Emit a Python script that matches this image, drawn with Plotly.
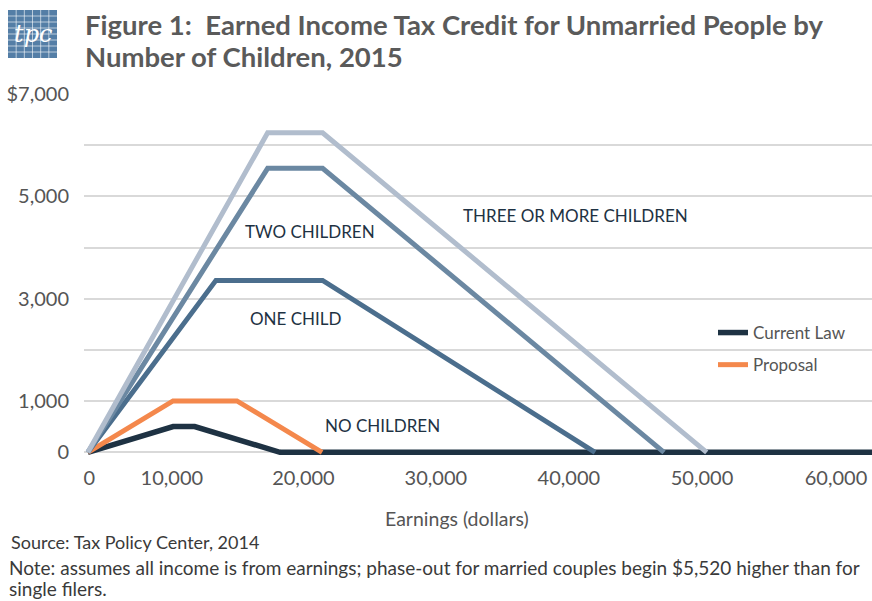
import plotly.graph_objects as go

# ---- data (2015 EITC schedules, unmarried filers) ----
three_x = [0, 13870, 18110, 47747]
three_y = [0, 6242, 6242, 0]
two_x = [0, 13870, 18110, 44454]
two_y = [0, 5548, 5548, 0]
one_x = [0, 9880, 18110, 39131]
one_y = [0, 3359, 3359, 0]
current_x = [0, 6580, 8240, 14820, 62000]
current_y = [0, 503, 503, 0, 0]
proposal_x = [0, 6570, 11500, 18070]
proposal_y = [0, 1005, 1005, 0]

y_tick_vals = [0, 1000, 2000, 3000, 4000, 5000, 6000, 7000]
y_tick_text = ["0", "1,000", "", "3,000", "", "5,000", "", "$7,000"]
x_tick_vals = [115, 6480, 16630, 26850, 37110, 47380, 57720]
x_tick_text = ["0", "10,000", "20,000", "30,000", "40,000", "50,000", "60,000"]

C_THREE = "#b1bdcd"
C_TWO = "#6b88a2"
C_ONE = "#4b6e8d"
C_CUR = "#1e3243"
C_PROP = "#f4884c"
TXT = "#555555"
FONT = "Lato"

W, H = 872, 601
M_L, M_R, M_T, M_B = 84, 0, 94, 141
PLOT_LEFT = M_L
PLOT_W = W - M_L - M_R
PLOT_BOTTOM = H - M_B
PLOT_H = H - M_T - M_B


def px(x):
    return (x - PLOT_LEFT) / PLOT_W


def py(y):
    return (PLOT_BOTTOM - y) / PLOT_H


fig = go.Figure()
fig.add_trace(go.Scatter(x=current_x, y=current_y, mode="lines", name="Current Law",
                         line=dict(color=C_CUR, width=5.5), legendgroup="a"))
fig.add_trace(go.Scatter(x=proposal_x, y=proposal_y, mode="lines", name="Proposal",
                         line=dict(color=C_PROP, width=5), legendgroup="b"))
fig.add_trace(go.Scatter(x=one_x, y=one_y, mode="lines", showlegend=False,
                         line=dict(color=C_ONE, width=5)))
fig.add_trace(go.Scatter(x=two_x, y=two_y, mode="lines", showlegend=False,
                         line=dict(color=C_TWO, width=5)))
fig.add_trace(go.Scatter(x=three_x, y=three_y, mode="lines", showlegend=False,
                         line=dict(color=C_THREE, width=5)))

# line labels
labels = [
    ("THREE OR MORE CHILDREN", 37600, 4634),
    ("TWO CHILDREN", 17100, 4321),
    ("ONE CHILD", 16050, 2620),
    ("NO CHILDREN", 22700, 528),
]
for t, x, y in labels:
    fig.add_annotation(x=x, y=y, text=t, showarrow=False, xanchor="center", yanchor="middle",
                       font=dict(family=FONT, size=17, color=C_CUR))

# title
TITLE_FONT = dict(family=FONT, size=27.5, color="#5a5a5a")
fig.add_annotation(xref="paper", yref="paper", x=px(83), y=py(24), xanchor="left", yanchor="middle",
                   text="<b>Figure 1:  Earned Income Tax Credit for Unmarried People by</b>",
                   showarrow=False, font=TITLE_FONT)
fig.add_annotation(xref="paper", yref="paper", x=px(83), y=py(56), xanchor="left", yanchor="middle",
                   text="<b>Number of Children, 2015</b>",
                   showarrow=False, font=TITLE_FONT)

# logo
LX0, LX1, LY0, LY1 = 8, 57, 10, 58
fig.add_shape(type="rect", xref="paper", yref="paper", x0=px(LX0), x1=px(LX1), y0=py(LY1), y1=py(LY0),
              fillcolor="#547ea6", line=dict(width=0), layer="above")
for i in range(1, 6):
    xv = LX0 + i * (LX1 - LX0) / 6
    fig.add_shape(type="line", xref="paper", yref="paper", x0=px(xv), x1=px(xv), y0=py(LY1), y1=py(LY0),
                  line=dict(color="rgba(255,255,255,0.6)", width=1), layer="above")
for i in range(1, 8):
    yv = LY0 + i * (LY1 - LY0) / 8
    fig.add_shape(type="line", xref="paper", yref="paper", x0=px(LX0), x1=px(LX1), y0=py(yv), y1=py(yv),
                  line=dict(color="rgba(255,255,255,0.6)", width=1), layer="above")
fig.add_annotation(xref="paper", yref="paper", x=px((LX0 + LX1) / 2), y=py(34), text="<i>tpc</i>",
                   showarrow=False, xanchor="center", yanchor="middle",
                   font=dict(family="DejaVu Serif", size=24, color="white"))

# x axis title
fig.add_annotation(xref="paper", yref="paper", x=px(457), y=py(518), text="Earnings (dollars)",
                   showarrow=False, xanchor="center", yanchor="middle",
                   font=dict(family=FONT, size=19.5, color=TXT))

# source / note
fig.add_annotation(xref="paper", yref="paper", x=px(9), y=py(542), xanchor="left", yanchor="middle",
                   text="Source: Tax Policy Center, 2014", showarrow=False,
                   font=dict(family=FONT, size=18, color="#3a3a3a"))
NOTE_FONT = dict(family=FONT, size=19, color="#3a3a3a")
fig.add_annotation(xref="paper", yref="paper", x=px(7), y=py(567), xanchor="left", yanchor="middle",
                   text="Note: assumes all income is from earnings; phase-out for married couples begin $5,520 higher than for",
                   showarrow=False, font=NOTE_FONT)
fig.add_annotation(xref="paper", yref="paper", x=px(7), y=py(588), xanchor="left", yanchor="middle",
                   text="single filers.", showarrow=False, font=NOTE_FONT)

# white box behind legend (covers gridlines)
fig.add_shape(type="rect", xref="paper", yref="paper", x0=px(698), x1=1.0,
              y0=py(385), y1=py(316),
              fillcolor="white", line=dict(width=0), layer="between")

fig.update_layout(
    width=W, height=H,
    margin=dict(l=M_L, r=M_R, t=M_T, b=M_B),
    paper_bgcolor="white", plot_bgcolor="white",
    font=dict(family=FONT, color=TXT),
    legend=dict(x=px(713), y=py(315), xanchor="left", yanchor="top",
                bgcolor="rgba(0,0,0,0)", font=dict(family=FONT, size=17, color=TXT),
                traceorder="grouped", tracegroupgap=7),
    showlegend=True,
)
fig.update_xaxes(range=[-300, 60500], tickvals=x_tick_vals, ticktext=x_tick_text,
                 showgrid=False, zeroline=False, showline=False, ticks="",
                 tickfont=dict(family=FONT, size=20, color=TXT), ticklabelstandoff=4)
fig.update_yaxes(range=[-150, 7000], tickvals=y_tick_vals, ticktext=y_tick_text,
                 showgrid=True, gridcolor="#d9d9d9", gridwidth=1.5, zeroline=False, showline=False,
                 ticks="", tickfont=dict(family=FONT, size=20, color=TXT), ticklabelstandoff=14)

fig.write_html("out.html",
               config={"displayModeBar": False},
               post_script="document.body.style.margin='0';document.body.style.overflow='hidden';")
